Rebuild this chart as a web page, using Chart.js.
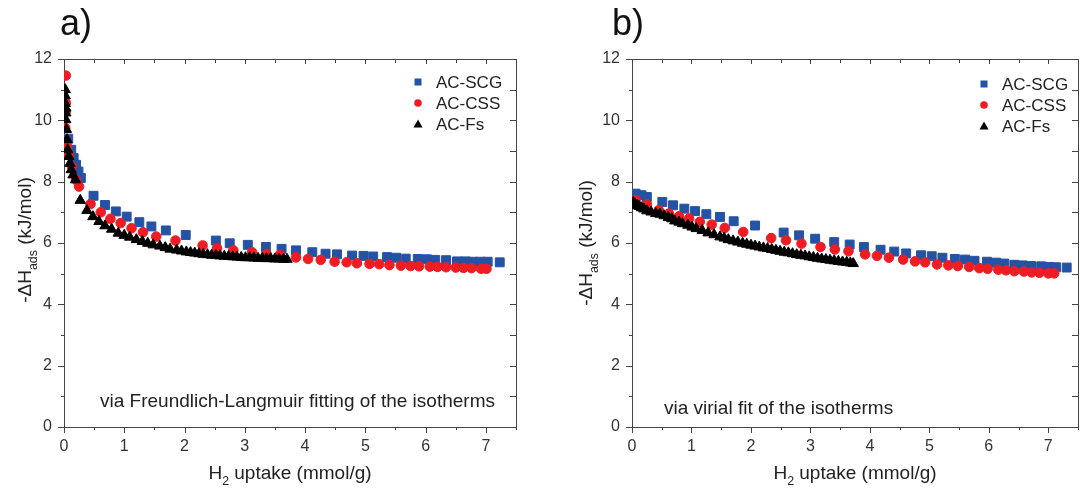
<!DOCTYPE html>
<html lang="en">

<head>
    <meta charset="UTF-8">
    <title>Isosteric heat of adsorption</title>
    <style>
        body {
            margin: 0;
            width: 1089px;
            height: 490px;
            background: #fff;
            position: relative;
            overflow: hidden;
        }

        canvas {
            position: absolute;
            top: 0;
        }

        #chartA {
            left: 0;
        }

        #chartB {
            left: 545px;
        }
    </style>
</head>

<body>
    <canvas id="chartA" width="545" height="490"></canvas>
    <canvas id="chartB" width="544" height="490"></canvas>

    <script src="https://cdn.jsdelivr.net/npm/chart.js"></script>

    <script>
        // series names
        const names = ['AC-SCG', 'AC-CSS', 'AC-Fs'];

        // a) Freundlich-Langmuir
        const scg_a_x = [0.07, 0.12, 0.16, 0.20, 0.24, 0.28, 0.49, 0.68, 0.86, 1.04, 1.25, 1.45, 1.69, 2.02, 2.52, 2.75, 3.05, 3.35, 3.61, 3.85, 4.12, 4.34, 4.53, 4.78, 4.97, 5.13, 5.36, 5.51, 5.67, 5.87, 6.02, 6.16, 6.34, 6.52, 6.66, 6.78, 6.91, 7.03, 7.23];
        const scg_a_y = [9.40, 9.04, 8.77, 8.55, 8.33, 8.12, 7.54, 7.24, 7.03, 6.86, 6.68, 6.54, 6.41, 6.26, 6.08, 5.99, 5.94, 5.87, 5.81, 5.76, 5.70, 5.65, 5.63, 5.59, 5.58, 5.56, 5.54, 5.52, 5.49, 5.48, 5.47, 5.45, 5.44, 5.40, 5.40, 5.39, 5.39, 5.39, 5.37];

        const css_a_x = [0.03, 0.03, 0.03, 0.02, 0.05, 0.08, 0.13, 0.20, 0.25, 0.44, 0.61, 0.77, 0.94, 1.12, 1.31, 1.53, 1.85, 2.30, 2.54, 2.81, 3.12, 3.36, 3.58, 3.85, 4.05, 4.26, 4.49, 4.69, 4.86, 5.07, 5.23, 5.40, 5.59, 5.75, 5.89, 6.07, 6.20, 6.34, 6.50, 6.63, 6.76, 6.92, 7.01];
        const css_a_y = [11.46, 10.57, 10.29, 9.75, 9.15, 8.88, 8.50, 8.06, 7.84, 7.27, 7.00, 6.79, 6.65, 6.48, 6.35, 6.21, 6.08, 5.92, 5.83, 5.76, 5.70, 5.64, 5.61, 5.53, 5.48, 5.45, 5.39, 5.37, 5.34, 5.32, 5.31, 5.28, 5.26, 5.25, 5.24, 5.23, 5.22, 5.21, 5.20, 5.19, 5.18, 5.16, 5.16];

        const fs_a_x = [0.02, 0.02, 0.02, 0.03, 0.03, 0.03, 0.04, 0.05, 0.06, 0.08, 0.10, 0.12, 0.15, 0.19, 0.27, 0.38, 0.48, 0.58, 0.68, 0.79, 0.90, 1.00, 1.09, 1.20, 1.30, 1.39, 1.48, 1.59, 1.68, 1.76, 1.87, 1.95, 2.03, 2.10, 2.17, 2.24, 2.31, 2.38, 2.45, 2.52, 2.59, 2.66, 2.73, 2.80, 2.87, 2.94, 3.01, 3.08, 3.15, 3.22, 3.29, 3.36, 3.43, 3.50, 3.57, 3.64, 3.70];
        const fs_a_y = [11.00, 10.80, 10.55, 10.40, 10.24, 10.02, 9.70, 9.37, 9.04, 8.82, 8.60, 8.39, 8.22, 8.06, 7.39, 7.06, 6.86, 6.70, 6.56, 6.45, 6.32, 6.25, 6.19, 6.11, 6.05, 5.99, 5.94, 5.90, 5.85, 5.80, 5.77, 5.74, 5.71, 5.69, 5.67, 5.65, 5.63, 5.62, 5.60, 5.59, 5.58, 5.57, 5.56, 5.55, 5.54, 5.53, 5.52, 5.52, 5.51, 5.50, 5.50, 5.49, 5.49, 5.48, 5.48, 5.47, 5.47];

        // b) virial fit
        const scg_b_x = [0.06, 0.16, 0.25, 0.51, 0.69, 0.88, 1.06, 1.25, 1.48, 1.71, 2.07, 2.55, 2.81, 3.08, 3.40, 3.66, 3.90, 4.18, 4.41, 4.61, 4.86, 5.04, 5.22, 5.43, 5.60, 5.76, 5.97, 6.12, 6.26, 6.43, 6.57, 6.71, 6.88, 7.02, 7.13, 7.31];
        const scg_b_y = [7.61, 7.56, 7.50, 7.34, 7.23, 7.12, 7.04, 6.94, 6.85, 6.71, 6.57, 6.34, 6.25, 6.14, 6.03, 5.95, 5.87, 5.78, 5.72, 5.66, 5.60, 5.57, 5.52, 5.48, 5.46, 5.42, 5.39, 5.36, 5.33, 5.29, 5.27, 5.25, 5.24, 5.22, 5.21, 5.20];

        const css_b_x = [0.06, 0.25, 0.45, 0.62, 0.79, 0.96, 1.14, 1.34, 1.56, 1.87, 2.34, 2.59, 2.85, 3.17, 3.41, 3.64, 3.92, 4.12, 4.32, 4.56, 4.76, 4.93, 5.13, 5.32, 5.48, 5.67, 5.84, 5.98, 6.16, 6.29, 6.43, 6.59, 6.72, 6.85, 7.00, 7.10];
        const css_b_y = [7.40, 7.26, 7.07, 6.96, 6.87, 6.80, 6.69, 6.60, 6.49, 6.36, 6.16, 6.09, 5.98, 5.87, 5.79, 5.73, 5.63, 5.58, 5.52, 5.46, 5.40, 5.37, 5.30, 5.27, 5.25, 5.22, 5.18, 5.16, 5.13, 5.11, 5.08, 5.07, 5.04, 5.03, 5.01, 5.01];

        const fs_b_x = [0.02, 0.04, 0.06, 0.09, 0.12, 0.16, 0.20, 0.25, 0.32, 0.40, 0.47, 0.54, 0.61, 0.67, 0.72, 0.79, 0.85, 0.94, 1.01, 1.08, 1.18, 1.28, 1.38, 1.48, 1.55, 1.62, 1.70, 1.78, 1.86, 1.93, 2.00, 2.07, 2.14, 2.21, 2.28, 2.35, 2.42, 2.49, 2.56, 2.63, 2.70, 2.77, 2.84, 2.91, 2.98, 3.05, 3.12, 3.19, 3.26, 3.33, 3.40, 3.47, 3.54, 3.61, 3.67, 3.72];
        const fs_b_y = [7.32, 7.28, 7.25, 7.22, 7.19, 7.15, 7.11, 7.05, 7.01, 6.96, 6.94, 6.89, 6.83, 6.79, 6.72, 6.68, 6.63, 6.58, 6.52, 6.47, 6.41, 6.33, 6.27, 6.20, 6.16, 6.11, 6.07, 6.03, 5.99, 5.96, 5.93, 5.90, 5.87, 5.84, 5.82, 5.79, 5.76, 5.73, 5.70, 5.68, 5.65, 5.62, 5.60, 5.58, 5.55, 5.53, 5.50, 5.48, 5.46, 5.44, 5.42, 5.40, 5.38, 5.37, 5.35, 5.33];

        // axis ranges / tick labels
        const x_ticks = [0, 1, 2, 3, 4, 5, 6, 7];
        const y_ticks = [0, 2, 4, 6, 8, 10, 12];

        const FONT = '"Liberation Sans", Arial, sans-serif';
        const AXIS_COLOR = '#444';
        const colors = ['#2453a6', '#ee1d24', '#000000'];
        const styles = ['rect', 'circle', 'triangle'];
        const radii = [6.3, 4.8, 6];

        Chart.defaults.font.family = FONT;
        Chart.defaults.color = '#333';

        function pts(xs, ys) {
            return xs.map(function (v, i) { return { x: v, y: ys[i] }; });
        }

        // draw text pieces with subscripts, centred on (x, y)
        function subText(ctx, parts, x, y, size) {
            let w = 0;
            parts.forEach(function (p) {
                ctx.font = (p[1] ? size * 0.65 : size) + 'px ' + FONT;
                w += ctx.measureText(p[0]).width;
            });
            let cx = x - w / 2;
            ctx.textAlign = 'left';
            ctx.textBaseline = 'alphabetic';
            parts.forEach(function (p) {
                ctx.font = (p[1] ? size * 0.65 : size) + 'px ' + FONT;
                ctx.fillText(p[0], cx, p[1] ? y + size * 0.3 : y);
                cx += ctx.measureText(p[0]).width;
            });
        }

        function marker(ctx, style, x, y, color) {
            ctx.fillStyle = color;
            ctx.beginPath();
            if (style == 'rect') {
                ctx.rect(x - 3.5, y - 3.5, 7, 7);
            } else if (style == 'circle') {
                ctx.arc(x, y, 3.8, 0, Math.PI * 2);
            } else {
                ctx.moveTo(x, y - 4.5);
                ctx.lineTo(x + 4.5, y + 3.5);
                ctx.lineTo(x - 4.5, y + 3.5);
                ctx.closePath();
            }
            ctx.fill();
        }

        // frame, tick marks, titles, legend, note
        const decor = {
            id: 'decor',
            afterDraw(chart, args, o) {
                const ctx = chart.ctx;
                const a = chart.chartArea;
                const xs = chart.scales.x;
                const ys = chart.scales.y;
                ctx.save();
                ctx.strokeStyle = AXIS_COLOR;
                ctx.lineWidth = 1;
                ctx.beginPath();
                ctx.moveTo(a.left, a.top + 0.5);
                ctx.lineTo(a.right + 0.5, a.top + 0.5);
                ctx.lineTo(a.right + 0.5, a.bottom);
                xs.ticks.forEach(function (t) {
                    const px = Math.round(xs.getPixelForValue(t.value)) + 0.5;
                    const major = t.value % 1 == 0;
                    ctx.moveTo(px, a.bottom);
                    ctx.lineTo(px, a.bottom + (major ? 6 : 3));
                    ctx.moveTo(px, a.top);
                    ctx.lineTo(px, a.top + (major ? 5 : 4));
                });
                ys.ticks.forEach(function (t) {
                    const py = Math.round(ys.getPixelForValue(t.value)) + 0.5;
                    const major = t.value % 2 == 0;
                    ctx.moveTo(a.left, py);
                    ctx.lineTo(a.left - (major ? 6 : 3), py);
                    ctx.moveTo(a.right, py);
                    ctx.lineTo(a.right - 6, py);
                });
                ctx.stroke();

                ctx.fillStyle = '#111';
                // panel label
                ctx.font = '36px ' + FONT;
                ctx.textAlign = 'left';
                ctx.textBaseline = 'alphabetic';
                ctx.fillText(o.label, o.labelX, 35);

                // x title
                ctx.fillStyle = '#222';
                subText(ctx, [['H', false], ['2', true], [' uptake (mmol/g)', false]], (a.left + a.right) / 2, 479, 19);

                // y title
                ctx.save();
                ctx.translate(o.yTitleX, o.yTitleY);
                ctx.rotate(-Math.PI / 2);
                subText(ctx, [['-ΔH', false], ['ads', true], [' (kJ/mol)', false]], 0, 0, 19);
                ctx.restore();

                // note
                ctx.font = '19px ' + FONT;
                ctx.textAlign = 'left';
                ctx.fillText(o.note, o.noteX, o.noteY);

                // legend
                chart.data.datasets.forEach(function (ds, i) {
                    const ly = o.legY + i * 21;
                    marker(ctx, ds.pointStyle, o.legX, ly, ds.backgroundColor);
                    ctx.fillStyle = '#222';
                    ctx.font = '17px ' + FONT;
                    ctx.textBaseline = 'middle';
                    ctx.fillText(ds.label, o.legX + 18, ly + 1);
                });
                ctx.restore();
            }
        };

        function makeChart(id, series, opt) {
            const datasets = series.map(function (s, i) {
                return {
                    label: names[i],
                    data: s,
                    pointStyle: styles[i],
                    pointRadius: radii[i],
                    backgroundColor: colors[i],
                    borderColor: colors[i],
                    borderWidth: 1,
                    showLine: false,
                    order: 2 - i
                };
            });
            return new Chart(document.getElementById(id), {
                type: 'scatter',
                data: { datasets: datasets },
                options: {
                    responsive: false,
                    animation: false,
                    layout: { padding: { top: 59, right: opt.padRight, left: 0, bottom: 0 } },
                    plugins: {
                        legend: { display: false },
                        tooltip: { enabled: false },
                        decor: opt
                    },
                    scales: {
                        x: {
                            type: 'linear',
                            min: 0,
                            max: 7.5,
                            afterFit: function (s) { s.height = 63; },
                            grid: { display: true, drawOnChartArea: false, drawTicks: false },
                            border: { display: true, color: AXIS_COLOR },
                            ticks: {
                                stepSize: 0.5,
                                autoSkip: false,
                                maxRotation: 0,
                                padding: 10,
                                font: { size: 16 },
                                callback: function (v) { return x_ticks.includes(v) ? String(v) : ''; }
                            }
                        },
                        y: {
                            type: 'linear',
                            min: 0,
                            max: 12,
                            afterFit: function (s) { s.width = opt.axisLeft; },
                            grid: { display: true, drawOnChartArea: false, drawTicks: false },
                            border: { display: true, color: AXIS_COLOR },
                            ticks: {
                                stepSize: 1,
                                autoSkip: false,
                                padding: 12,
                                font: { size: 16 },
                                callback: function (v) { return y_ticks.includes(v) ? String(v) : ''; }
                            }
                        }
                    }
                },
                plugins: [decor]
            });
        }

        makeChart('chartA', [pts(scg_a_x, scg_a_y), pts(css_a_x, css_a_y), pts(fs_a_x, fs_a_y)], {
            label: 'a)', labelX: 60,
            axisLeft: 64, padRight: 29,
            yTitleX: 31, yTitleY: 240,
            note: 'via Freundlich-Langmuir fitting of the isotherms', noteX: 100, noteY: 407,
            legX: 418, legY: 82
        });

        makeChart('chartB', [pts(scg_b_x, scg_b_y), pts(css_b_x, css_b_y), pts(fs_b_x, fs_b_y)], {
            label: 'b)', labelX: 67,
            axisLeft: 87, padRight: 11,
            yTitleX: 47, yTitleY: 243,
            note: 'via virial fit of the isotherms', noteX: 119, noteY: 414,
            legX: 439, legY: 84
        });
    </script>
</body>

</html>
